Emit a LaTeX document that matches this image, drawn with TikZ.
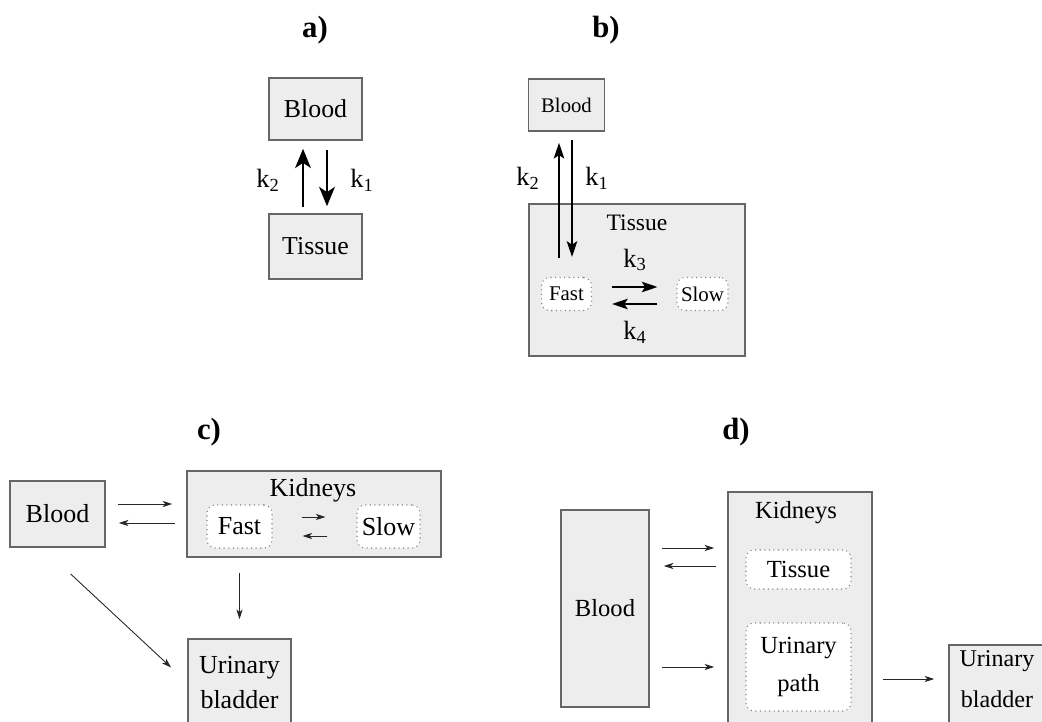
\documentclass[tikz,border=0pt]{standalone}
\usepackage{fontspec}
\setmainfont{Liberation Serif}
\usetikzlibrary{arrows.meta}

\begin{document}
\begin{tikzpicture}[x=0.02cm, y=-0.02cm,
  box/.style={draw=black!60, fill=black!7, line width=0.9pt, inner sep=0pt, align=center},
  pool/.style={draw=black!50, fill=white, dotted, line width=0.6pt, rounded corners=0.16cm, inner sep=0pt, align=center},
  bigarr/.style={-{Stealth[length=11pt, width=9pt, inset=3pt]}, line width=1.1pt},
  midarr/.style={-{Stealth[length=9pt, width=6pt, inset=2pt]}, line width=0.9pt},
  thinarr/.style={-{Stealth[length=5.5pt, width=3.5pt, inset=1.5pt]}, line width=0.5pt, black!85},
  panel/.style={font=\fontsize{17.5}{20}\selectfont\bfseries},
  klab/.style={font=\fontsize{15}{18}\selectfont},
  txta/.style={font=\fontsize{14.7}{17}\selectfont},
  txtc/.style={font=\fontsize{14.8}{20}\selectfont},
  txtd/.style={font=\fontsize{14}{22}\selectfont}]
\useasboundingbox (0,0) rectangle (1042,722);
\clip (0,0) rectangle (1042,722);

% panel letters
\node[panel] (labA) at (315,30) {a)};
\node[panel] (labB) at (606,30) {b)};
\node[panel] (labC) at (209,432) {c)};
\node[panel] (labD) at (736,432) {d)};

% a) two compartments
\node[box, txta, minimum width=1.86cm, minimum height=1.24cm] (bloodA) at (315.5,109) {Blood};
\node[box, txta, minimum width=1.86cm, minimum height=1.3cm] (tissueA) at (315.5,246.5) {Tissue};
\draw[bigarr, shorten <=0.12cm, shorten >=0.16cm] ([xshift=-0.25cm]tissueA.north) -- ([xshift=-0.25cm]bloodA.south);
\draw[bigarr, shorten <=0.18cm, shorten >=0.14cm] ([xshift=0.23cm]bloodA.south) -- ([xshift=0.23cm]tissueA.north);
\node[klab] (k2A) at (268,180) {k\textsubscript{2}};
\node[klab] (k1A) at (362,180) {k\textsubscript{1}};

% b) tissue with fast and slow pools
\node[box, font=\fontsize{11.8}{14}\selectfont, minimum width=1.52cm, minimum height=1.04cm] (bloodB) at (566.5,105) {Blood};
\node[box, minimum width=4.32cm, minimum height=3.04cm] (tissueB) at (637,280) {};
\node[font=\fontsize{13.4}{16}\selectfont] (tisLabB) at (637,223) {Tissue};
\node[pool, font=\fontsize{11.9}{14}\selectfont, minimum width=1cm, minimum height=0.66cm] (fastB) at (566.5,294) {Fast};
\node[pool, font=\fontsize{11.9}{14}\selectfont, minimum width=1.02cm, minimum height=0.66cm] (slowB) at (702.5,294) {Slow};
\draw[midarr, shorten <=0.38cm, shorten >=0.22cm] ([xshift=-0.15cm]fastB.north) -- ([xshift=-0.15cm]bloodB.south);
\draw[midarr, shorten <=0.16cm, shorten >=0.4cm] ([xshift=0.11cm]bloodB.south) -- ([xshift=0.11cm]fastB.north);
\draw[midarr, shorten <=0.4cm, shorten >=0.38cm] ([yshift=0.14cm]fastB.east) -- ([yshift=0.14cm]slowB.west);
\draw[midarr, shorten <=0.38cm, shorten >=0.4cm] ([yshift=-0.2cm]slowB.west) -- ([yshift=-0.2cm]fastB.east);
\node[klab] (k2B) at (528,178) {k\textsubscript{2}};
\node[klab] (k1B) at (597,178) {k\textsubscript{1}};
\node[klab] (k3B) at (635,260) {k\textsubscript{3}};
\node[klab] (k4B) at (635,332) {k\textsubscript{4}};

% c) kidneys and bladder
\node[box, txtc, minimum width=1.9cm, minimum height=1.32cm] (bloodC) at (57.5,514) {Blood};
\node[box, minimum width=5.08cm, minimum height=1.72cm] (kidC) at (314,514) {};
\node[txtc] (kidLabC) at (313,490) {Kidneys};
\node[pool, txtc, minimum width=1.3cm, minimum height=0.86cm] (fastC) at (239.5,526.5) {Fast};
\node[pool, txtc, minimum width=1.26cm, minimum height=0.86cm] (slowC) at (388.5,526.5) {Slow};
\node[box, txtc, minimum width=2.06cm, minimum height=1.74cm] (bladC) at (239.5,682.5) {Urinary\\bladder};
\draw[thinarr, shorten <=0.24cm, shorten >=0.28cm] ([yshift=0.2cm]bloodC.east) -- ([yshift=0.2cm]kidC.west);
\draw[thinarr, shorten <=0.22cm, shorten >=0.26cm] ([yshift=-0.18cm]kidC.west) -- ([yshift=-0.18cm]bloodC.east);
\draw[thinarr, shorten <=0.58cm, shorten >=0.62cm] ([yshift=0.19cm]fastC.east) -- ([yshift=0.19cm]slowC.west);
\draw[thinarr, shorten <=0.58cm, shorten >=0.6cm] ([yshift=-0.19cm]slowC.west) -- ([yshift=-0.19cm]fastC.east);
\draw[thinarr, shorten <=0.3cm, shorten >=0.38cm] (kidC.south -| bladC.north) -- (bladC.north);
\draw[thinarr, shorten <=0.77cm, shorten >=0.44cm] ([xshift=-0.3cm]bloodC.south) -- (bladC.west);

% d) kidneys with urinary path
\node[box, txtd, minimum width=1.76cm, minimum height=3.94cm] (bloodD) at (605,608.5) {Blood};
\node[box, minimum width=2.88cm, minimum height=4.76cm] (kidD) at (800,611) {};
\node[txtd] (kidLabD) at (796,513) {Kidneys};
\node[pool, txtd, minimum width=2.1cm, minimum height=0.78cm] (tisD) at (798.5,569.5) {Tissue};
\node[pool, txtd, minimum width=2.1cm, minimum height=1.76cm] (pathD) at (798.5,667) {Urinary\\path};
\node[box, minimum width=2.4cm, minimum height=1.7cm] (bladD) at (1009,687.5) {};
\node[font=\fontsize{13.7}{23.5}\selectfont, align=center] (bladTxtD) at (997,679) {Urinary\\bladder};
\coordinate (inD) at ([yshift=0.43cm]tisD.west);
\coordinate (outD) at ([yshift=0.07cm]tisD.west);
\draw[thinarr, shorten <=0.24cm, shorten >=0.26cm] (inD -| bloodD.east) -- (inD -| kidD.west);
\draw[thinarr, shorten <=0.22cm, shorten >=0.28cm] (outD -| kidD.west) -- (outD -| bloodD.east);
\draw[thinarr, shorten <=0.24cm, shorten >=0.26cm] (pathD -| bloodD.east) -- (pathD -| kidD.west);
\draw[thinarr, shorten <=0.2cm, shorten >=0.28cm] (bladTxtD -| kidD.east) -- (bladTxtD -| bladD.west);
\end{tikzpicture}
\end{document}
